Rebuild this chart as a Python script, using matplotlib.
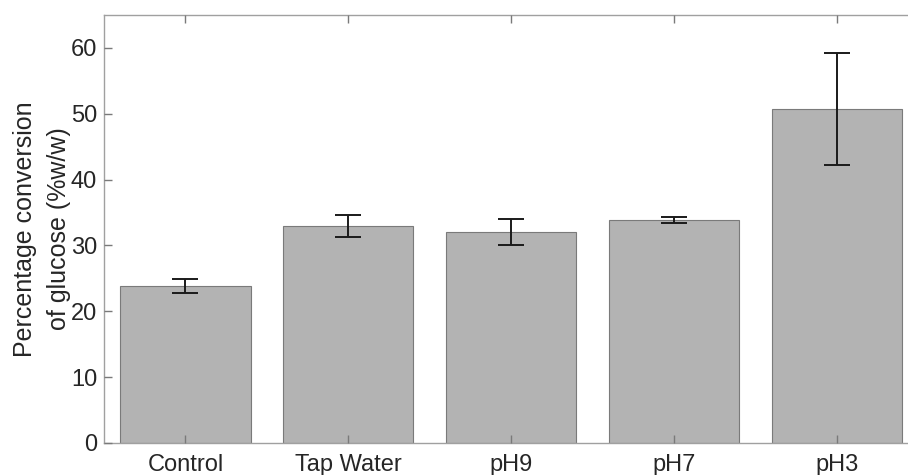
import matplotlib
matplotlib.use("Agg")
import matplotlib.pyplot as plt
import numpy as np

plt.rcParams['font.family'] = ['Liberation Sans', 'DejaVu Sans']

# 数据
categories = ["Control", "Tap Water", "pH9", "pH7", "pH3"]
conversion = [23.8, 33.0, 32.0, 33.9, 50.7]
err = [1.05, 1.7, 2.0, 0.45, 8.5]

fig = plt.figure(figsize=(9.08, 4.75), dpi=100)
# 右边被裁掉一点，所以坐标轴超出图片
ax = fig.add_axes([0.1145, 0.0674, 0.897, 0.901])

x = np.arange(len(categories))
ax.bar(x, conversion, width=0.8, color="#b3b3b3", edgecolor="#7a7a7a", linewidth=0.8)
ax.errorbar(x, conversion, yerr=err, fmt="none", ecolor="#1a1a1a",
            elinewidth=1.4, capsize=9.5, capthick=1.4)

ax.set_xlim(-0.5, 4.5)
ax.set_ylim(0, 65)
ax.set_xticks(x)
ax.set_xticklabels(categories)
ax.set_yticks(np.arange(0, 61, 10))
ax.set_axisbelow(False)

for s in ax.spines.values():
    s.set_color("#a0a0a0")
    s.set_linewidth(1.0)

ax.tick_params(direction="in", length=6, width=1.0, color="#7a7a7a",
               labelsize=17, labelcolor="#262626", top=True, right=True)
ax.tick_params(axis="x", pad=8)
ax.tick_params(axis="y", pad=5)

ax.set_ylabel("Percentage conversion\nof glucose (%w/w)", fontsize=18,
              color="#262626", labelpad=0, linespacing=1.52)

fig.savefig("out.png", dpi=100)
